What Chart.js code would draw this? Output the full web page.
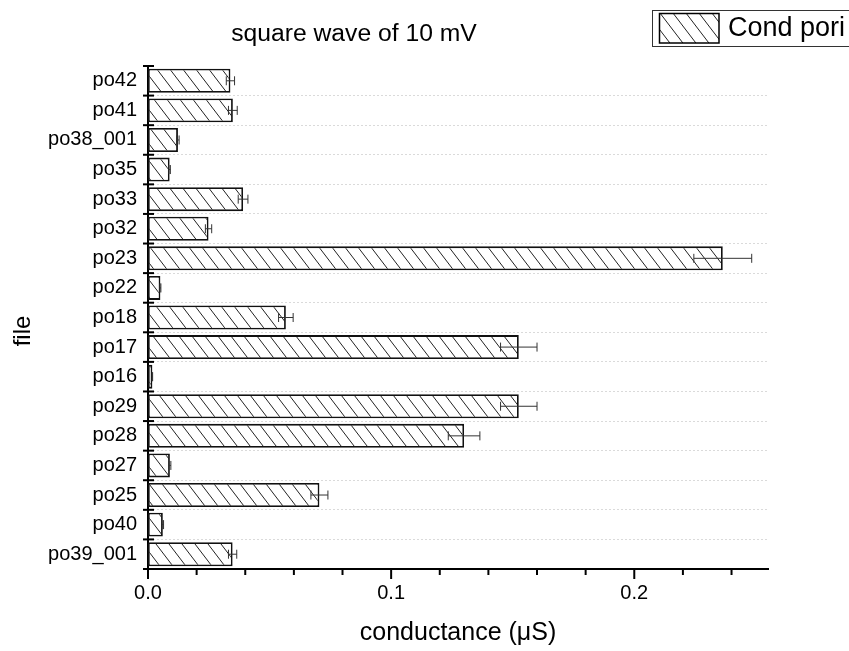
<!DOCTYPE html>
<html>
<head>
<meta charset="utf-8">
<style>
  html, body { margin: 0; padding: 0; background: #fff; }
  #wrap { width: 849px; height: 651px; position: relative; }
</style>
<script src="https://cdn.jsdelivr.net/npm/chart.js@4.4.1/dist/chart.umd.min.js"></script>
</head>
<body>
<div id="wrap"><canvas id="c" width="849" height="651"></canvas></div>
<script>
// Recordings, listed top to bottom on the category axis
const categories = ['po42', 'po41', 'po38_001', 'po35', 'po33', 'po32', 'po23', 'po22', 'po18',
                    'po17', 'po16', 'po29', 'po28', 'po27', 'po25', 'po40', 'po39_001'];
// Pore conductance (µS) and its error
const conductance = [0.0339, 0.0349, 0.0123, 0.0089, 0.0391, 0.0249, 0.2364, 0.0051, 0.0567,
                     0.1525, 0.0018, 0.1525, 0.1300, 0.0090, 0.0705, 0.0061, 0.0348];
const conductanceErr = [0.0017, 0.0018, 0.0005, 0.0003, 0.0020, 0.0013, 0.0119, 0.0002, 0.0030,
                        0.0075, 0.0001, 0.0075, 0.0065, 0.0004, 0.0035, 0.0003, 0.0017];
const xTickValues = [0, 0.1, 0.2];
const xTickLabels = ['0.0', '0.1', '0.2'];
const seriesName = 'Cond pori';
const chartTitle = 'square wave of 10 mV';
const xTitle = 'conductance (\u03BCS)';
const yTitle = 'file';

const FONT = "'Liberation Sans', Arial, Helvetica, sans-serif";
Chart.defaults.font.family = FONT;
Chart.defaults.color = '#000';

const canvas = document.getElementById('c');
const mainCtx = canvas.getContext('2d');

// Diagonal "\" hatch used for the bars and the legend swatch
function makeHatch() {
  const W = 13, H = 17;
  const t = document.createElement('canvas');
  t.width = W; t.height = H;
  const g = t.getContext('2d');
  g.fillStyle = '#fff';
  g.fillRect(0, 0, W, H);
  g.strokeStyle = '#222';
  g.lineWidth = 1;
  for (let k = -1; k <= 1; k++) {
    g.beginPath();
    g.moveTo(k * W, 0);
    g.lineTo(k * W + W, H);
    g.stroke();
  }
  return mainCtx.createPattern(t, 'repeat');
}
const hatch = makeHatch();

// Error bars, ticks, titles and framed legend
const decorations = {
  id: 'decorations',
  afterDatasetsDraw(chart) {
    const ctx = chart.ctx;
    const xs = chart.scales.x;
    const meta = chart.getDatasetMeta(0);
    ctx.save();
    ctx.strokeStyle = '#333';
    ctx.lineWidth = 1;
    meta.data.forEach((bar, i) => {
      const v = conductance[i], e = conductanceErr[i];
      const x1 = xs.getPixelForValue(v - e);
      const x2 = xs.getPixelForValue(v + e);
      const y = bar.y;
      ctx.beginPath();
      ctx.moveTo(x1, y); ctx.lineTo(x2, y);
      ctx.moveTo(x1, y - 4.5); ctx.lineTo(x1, y + 4.5);
      ctx.moveTo(x2, y - 4.5); ctx.lineTo(x2, y + 4.5);
      ctx.stroke();
    });
    ctx.restore();
  },
  afterDraw(chart) {
    const ctx = chart.ctx;
    const xs = chart.scales.x, ys = chart.scales.y;
    const area = chart.chartArea;
    ctx.save();
    ctx.strokeStyle = '#000';
    ctx.lineWidth = 2;
    // category boundary ticks crossing the y axis
    const half = (ys.getPixelForValue(1) - ys.getPixelForValue(0)) / 2;
    for (let i = 0; i <= categories.length; i++) {
      const y = ys.getPixelForValue(i) - half;
      ctx.beginPath();
      ctx.moveTo(area.left - 5, y); ctx.lineTo(area.left + 6, y);
      ctx.stroke();
    }
    // major / minor ticks below the x axis
    for (let k = 0; k <= 12; k++) {
      const v = k * 0.02;
      const x = xs.getPixelForValue(v);
      const major = k % 5 === 0;
      ctx.beginPath();
      ctx.moveTo(x, area.bottom); ctx.lineTo(x, area.bottom + (major ? 10 : 6));
      ctx.stroke();
    }
    // title
    ctx.fillStyle = '#000';
    ctx.font = '24.7px ' + FONT;
    ctx.textAlign = 'center';
    ctx.textBaseline = 'alphabetic';
    ctx.fillText(chartTitle, 354, 41);
    // y axis title
    ctx.save();
    ctx.translate(30, 331);
    ctx.rotate(-Math.PI / 2);
    ctx.font = '24px ' + FONT;
    ctx.textAlign = 'center';
    ctx.fillText(yTitle, 0, 0);
    ctx.restore();
    // legend
    ctx.lineWidth = 1;
    ctx.strokeStyle = '#333';
    ctx.strokeRect(652.5, 10.5, 220, 36);
    ctx.fillStyle = hatch;
    ctx.fillRect(659, 13, 60, 30);
    ctx.lineWidth = 1.5;
    ctx.strokeStyle = '#000';
    ctx.strokeRect(659.5, 13.5, 59.5, 29.5);
    ctx.fillStyle = '#000';
    ctx.font = '27px ' + FONT;
    ctx.textAlign = 'left';
    ctx.textBaseline = 'middle';
    ctx.fillText(chart.data.datasets[0].label, 728, 29);
    ctx.restore();
  }
};

new Chart(canvas, {
  type: 'bar',
  data: {
    labels: categories,
    datasets: [{
      label: seriesName,
      data: conductance,
      backgroundColor: hatch,
      borderColor: '#111',
      borderWidth: 1.8,
      borderSkipped: false,
      categoryPercentage: 1,
      barPercentage: 0.81
    }]
  },
  options: {
    indexAxis: 'y',
    responsive: false,
    animation: false,
    layout: { padding: { left: 0, top: 66, right: 81, bottom: 0 } },
    plugins: {
      legend: { display: false },
      title: { display: false },
      tooltip: { enabled: false }
    },
    scales: {
      x: {
        type: 'linear',
        min: 0,
        max: 0.255,
        afterFit(scale) { scale.height = 82; },
        afterBuildTicks(scale) {
          scale.ticks = xTickValues.map(v => ({ value: v }));
        },
        ticks: {
          font: { size: 20 },
          padding: 12,
          maxRotation: 0,
          autoSkip: false,
          callback(value) {
            const idx = xTickValues.findIndex(t => Math.abs(t - value) < 1e-9);
            return idx >= 0 ? xTickLabels[idx] : '';
          }
        },
        grid: { display: false, drawTicks: false },
        border: { display: true, color: '#000', width: 2 },
        title: {
          display: true,
          text: xTitle,
          font: { size: 25 },
          padding: { top: 0, bottom: 3 }
        }
      },
      y: {
        type: 'category',
        afterFit(scale) { scale.width = 148; },
        ticks: { font: { size: 20 }, padding: 11, autoSkip: false },
        grid: {
          display: true,
          offset: true,
          drawTicks: false,
          lineWidth: 1,
          color: (c) => (c.index === 0 ? 'rgba(0,0,0,0)' : '#dadada')
        },
        border: { display: true, color: '#000', width: 2, dash: [2, 2] },
        title: { display: false }
      }
    }
  },
  plugins: [decorations]
});
</script>
</body>
</html>
